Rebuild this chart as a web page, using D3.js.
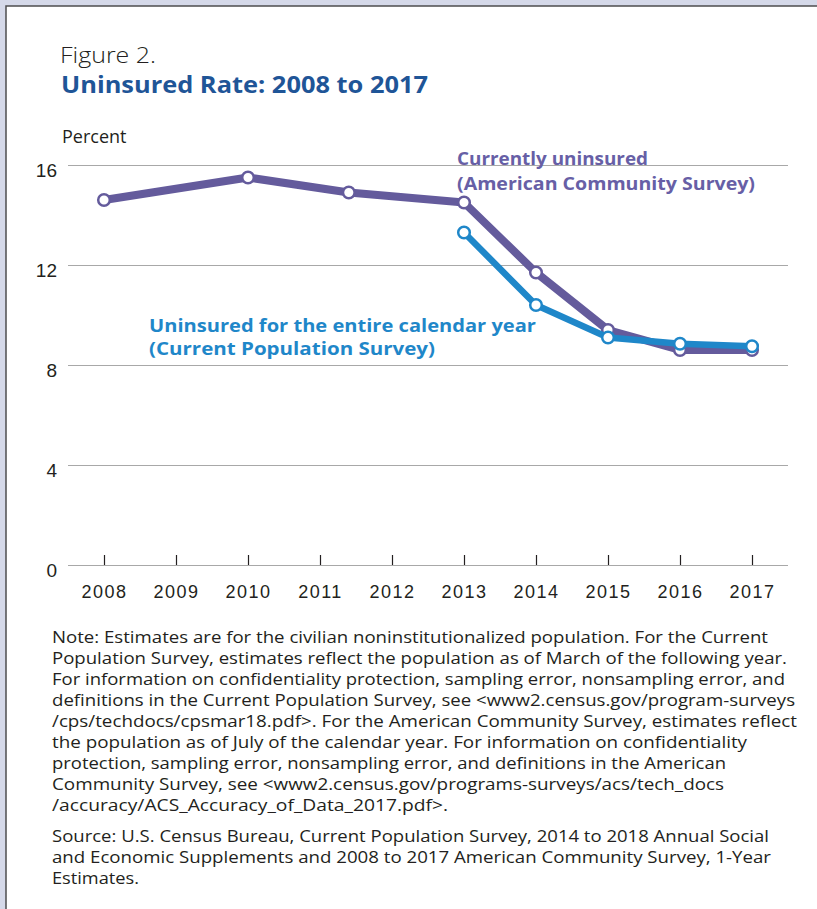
<!DOCTYPE html>
<html>
<head>
<meta charset="utf-8">
<script src="https://cdn.jsdelivr.net/npm/d3@7"></script>
<style>
  body { margin: 0; background: #d5d9e9; }
  svg { display: block; font-family: "Open Sans", sans-serif; }
  .grid line { stroke: #a8a8a8; stroke-width: 1; }
  .grid text { font-size: 19px; fill: #231f20; }
  .xaxis text { font-size: 18px; fill: #231f20; letter-spacing: 1.5px; }
  .xaxis line { stroke: #231f20; stroke-width: 1.2; }
  .note { font-size: 16px; fill: #231f20; }
</style>
</head>
<body>
<div id="chart"></div>
<script>
// years where the ACS markers sit (the third one sits between 2011 and 2012 in the original)
const acsYears = [2008, 2010, 2011.4, 2013, 2014, 2015, 2016, 2017];
const acsValues = [14.6, 15.5, 14.9, 14.5, 11.7, 9.4, 8.6, 8.6];

const cpsYears = [2013, 2014, 2015, 2016, 2017];
const cpsValues = [13.3, 10.4, 9.1, 8.85, 8.75];

const xTicks = [2008, 2009, 2010, 2011, 2012, 2013, 2014, 2015, 2016, 2017];
const yTicks = [0, 4, 8, 12, 16];

const noteLines = [
    "Note: Estimates are for the civilian noninstitutionalized population. For the Current",
    "Population Survey, estimates reflect the population as of March of the following year.",
    "For information on confidentiality protection, sampling error, nonsampling error, and",
    "definitions in the Current Population Survey, see <www2.census.gov/program-surveys",
    "/cps/techdocs/cpsmar18.pdf>. For the American Community Survey, estimates reflect",
    "the population as of July of the calendar year. For information on confidentiality",
    "protection, sampling error, nonsampling error, and definitions in the American",
    "Community Survey, see <www2.census.gov/programs-surveys/acs/tech_docs",
    "/accuracy/ACS_Accuracy_of_Data_2017.pdf>."
];
const sourceLines = [
    "Source: U.S. Census Bureau, Current Population Survey, 2014 to 2018 Annual Social",
    "and Economic Supplements and 2008 to 2017 American Community Survey, 1-Year",
    "Estimates."
];

const WIDTH = 817;
const HEIGHT = 909;
const ACS_COLOR = "#645b9c";
const CPS_COLOR = "#1f87c9";
// measured line ends of the note block
const NOTE_WIDTHS = [716, 735, 733, 743, 745, 695, 674, 672, 396];
const SOURCE_WIDTHS = [717, 719, 87];

const svg = d3.select("#chart")
    .append("svg")
    .attr("width", WIDTH)
    .attr("height", HEIGHT);

// white panel with border
svg.append("rect")
    .attr("x", 6)
    .attr("y", 6)
    .attr("width", WIDTH + 20)
    .attr("height", HEIGHT + 20)
    .attr("fill", "#fff")
    .attr("stroke", "#4d4d4f")
    .attr("stroke-width", 1.5);

svg.append("text")
    .attr("x", 60)
    .attr("y", 63)
    .attr("font-size", 22)
    .attr("font-weight", 300)
    .attr("fill", "#231f20")
    .attr("textLength", 96)
    .attr("lengthAdjust", "spacingAndGlyphs")
    .text("Figure 2.");

svg.append("text")
    .attr("x", 61)
    .attr("y", 93)
    .attr("font-size", 23)
    .attr("font-weight", 700)
    .attr("fill", "#1f5597")
    .attr("textLength", 367)
    .attr("lengthAdjust", "spacingAndGlyphs")
    .text("Uninsured Rate: 2008 to 2017");

svg.append("text")
    .attr("x", 62)
    .attr("y", 143)
    .attr("font-size", 18)
    .attr("fill", "#231f20")
    .text("Percent");

let xScale = d3.scaleLinear()
    .domain([2008, 2017])
    .range([104, 752]);

let yScale = d3.scaleLinear()
    .domain([0, 16])
    .range([565, 165]);

// horizontal gridlines + y labels
svg.append("g")
    .classed("grid", true)
    .attr("transform", "translate(68,0)")
    .call(d3.axisLeft(yScale).tickValues(yTicks).tickSize(-720).tickPadding(11))
    .call(g => g.select(".domain").remove())
    .call(g => g.selectAll("text").attr("dy", "0.6em"))
    .call(g => g.selectAll(".tick").filter(d => d === 0).select("line")
        .attr("stroke", "#231f20").attr("stroke-width", 1.3));

// x axis ticks pointing up
svg.append("g")
    .classed("xaxis", true)
    .attr("transform", "translate(0," + yScale(0) + ")")
    .call(d3.axisBottom(xScale).tickValues(xTicks).tickFormat(d3.format("d")).tickSize(-10).tickPadding(20))
    .call(g => g.select(".domain").remove());

let line = d3.line()
    .x(d => xScale(d.year))
    .y(d => yScale(d.value));

let acs = acsYears.map((y, i) => ({ year: y, value: acsValues[i] }));
let cps = cpsYears.map((y, i) => ({ year: y, value: cpsValues[i] }));

function drawSeries(data, color, width) {
    svg.append("path")
        .datum(data)
        .attr("fill", "none")
        .attr("stroke", color)
        .attr("stroke-width", width)
        .attr("stroke-linejoin", "round")
        .attr("d", line);

    svg.append("g")
        .selectAll("circle")
        .data(data)
        .enter()
        .append("circle")
        .attr("cx", d => xScale(d.year))
        .attr("cy", d => yScale(d.value))
        .attr("r", 5.8)
        .attr("fill", "#fff")
        .attr("stroke", color)
        .attr("stroke-width", 2.5);
}

drawSeries(acs, ACS_COLOR, 8);
drawSeries(cps, CPS_COLOR, 6.5);

// series labels
svg.append("text")
    .attr("font-size", 17)
    .attr("font-weight", 700)
    .attr("fill", "#675fa6")
    .selectAll("tspan")
    .data([["Currently uninsured", 165, 191], ["(American Community Survey)", 190, 298]])
    .enter()
    .append("tspan")
    .attr("x", 457)
    .attr("y", d => d[1])
    .attr("textLength", d => d[2])
    .attr("lengthAdjust", "spacingAndGlyphs")
    .text(d => d[0]);

svg.append("text")
    .attr("font-size", 17)
    .attr("font-weight", 700)
    .attr("fill", CPS_COLOR)
    .selectAll("tspan")
    .data([["Uninsured for the entire calendar year", 332, 387], ["(Current Population Survey)", 355, 286]])
    .enter()
    .append("tspan")
    .attr("x", 149)
    .attr("y", d => d[1])
    .attr("textLength", d => d[2])
    .attr("lengthAdjust", "spacingAndGlyphs")
    .text(d => d[0]);

// note and source block
svg.append("g")
    .selectAll("text")
    .data(noteLines)
    .enter()
    .append("text")
    .classed("note", true)
    .attr("x", 52)
    .attr("y", (d, i) => 643 + i * 21)
    .attr("textLength", (d, i) => NOTE_WIDTHS[i])
    .attr("lengthAdjust", "spacingAndGlyphs")
    .text(d => d);

svg.append("g")
    .selectAll("text")
    .data(sourceLines)
    .enter()
    .append("text")
    .classed("note", true)
    .attr("x", 52)
    .attr("y", (d, i) => 842 + i * 21)
    .attr("textLength", (d, i) => SOURCE_WIDTHS[i])
    .attr("lengthAdjust", "spacingAndGlyphs")
    .text(d => d);
</script>
</body>
</html>
